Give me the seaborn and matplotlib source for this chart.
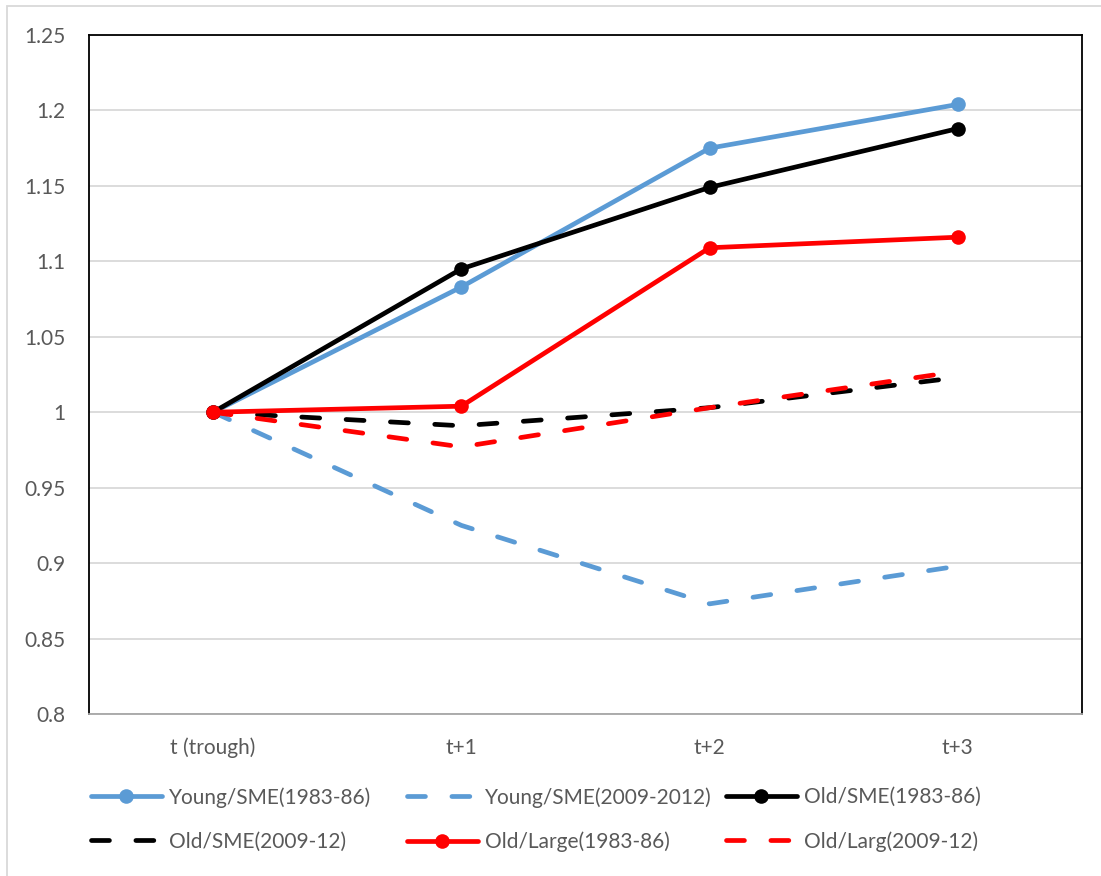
import matplotlib
matplotlib.use("Agg")
import matplotlib.pyplot as plt
import seaborn as sns
import pandas as pd
from matplotlib.lines import Line2D
from matplotlib.patches import Rectangle

# Recovery index by years after the trough
periods = ["t (trough)", "t+1", "t+2", "t+3"]
young_sme_83 = [1.0, 1.083, 1.175, 1.204]
young_sme_09 = [1.0, 0.925, 0.873, 0.898]
old_sme_83 = [1.0, 1.095, 1.149, 1.188]
old_sme_09 = [1.0, 0.991, 1.003, 1.023]
old_large_83 = [1.0, 1.004, 1.109, 1.116]
old_large_09 = [1.0, 0.977, 1.003, 1.027]

labels = ["Young/SME(1983-86)", "Young/SME(2009-2012)", "Old/SME(1983-86)",
          "Old/SME(2009-12)", "Old/Large(1983-86)", "Old/Larg(2009-12)"]
series = [young_sme_83, young_sme_09, old_sme_83, old_sme_09, old_large_83, old_large_09]

BLUE = "#5B9BD5"
RED = "#FF0000"
BLACK = "#000000"
colors = [BLUE, BLUE, BLACK, BLACK, RED, RED]
dashed = [False, True, False, True, False, True]

sns.set_theme(style="white")
plt.rcParams["font.family"] = ["Lato", "DejaVu Sans"]
TEXT = "#595959"
FS = 15

fig = plt.figure(figsize=(11.01, 8.76), dpi=100)
ax = fig.add_axes([89 / 1101, 1 - 714 / 876, (1082 - 89) / 1101, (714 - 35) / 876])

LW = 3.4
DASH = (3.8, 5.6)

rows = []
for lab, vals in zip(labels, series):
    for i, v in enumerate(vals):
        rows.append({"series": lab, "x": i, "value": v})
df = pd.DataFrame(rows)

for lab, col, dsh in zip(labels, colors, dashed):
    sub = df[df["series"] == lab]
    sns.lineplot(data=sub, x="x", y="value", ax=ax, color=col, linewidth=LW,
                 marker=None if dsh else "o", markersize=10.5,
                 markeredgewidth=0, legend=False, estimator=None)
    line = ax.lines[-1]
    line.set_solid_capstyle("round")
    line.set_dash_capstyle("round")
    if dsh:
        line.set_dashes(DASH)

ax.set_xlim(-0.5, 3.5)
ax.set_ylim(0.8, 1.25)
ax.set_yticks([0.8, 0.85, 0.9, 0.95, 1.0, 1.05, 1.1, 1.15, 1.2, 1.25])
ax.set_yticklabels(["0.8", "0.85", "0.9", "0.95", "1", "1.05", "1.1", "1.15", "1.2", "1.25"])
ax.set_xticks(range(len(periods)))
ax.set_xticklabels(periods)
ax.set_xlabel("")
ax.set_ylabel("")
ax.tick_params(axis="both", length=0, labelsize=FS, labelcolor=TEXT)
ax.tick_params(axis="y", pad=17)
ax.tick_params(axis="x", pad=17)
ax.yaxis.grid(True, color="#D9D9D9", linewidth=1.3)
ax.xaxis.grid(False)
ax.set_axisbelow(True)
for side in ["left", "top", "right"]:
    ax.spines[side].set_color("black")
    ax.spines[side].set_linewidth(1.3)
ax.spines["bottom"].set_color("#A6A6A6")
ax.spines["bottom"].set_linewidth(1.3)

# Legend: three columns of two entries each
def handle(col, dsh):
    h = Line2D([0], [0], color=col, linewidth=LW, marker=None if dsh else "o",
               markersize=10.5, markeredgewidth=0, solid_capstyle="round",
               dash_capstyle="round")
    if dsh:
        h.set_dashes(DASH)
    return h

columns = [(0, 3), (1, 4), (2, 5)]
col_x = [91, 407, 726]
for (a, b), x0 in zip(columns, col_x):
    hs = [handle(colors[a], dashed[a]), handle(colors[b], dashed[b])]
    leg = fig.legend(hs, [labels[a], labels[b]], loc="upper left",
                     bbox_to_anchor=(x0 / 1101, 1 - 787 / 876),
                     frameon=False, fontsize=FS, handlelength=3.4,
                     handletextpad=0.35, labelspacing=1.15, borderpad=0,
                     borderaxespad=0)
    for t in leg.get_texts():
        t.set_color(TEXT)

# Outer chart border
fig.patches.append(Rectangle((7 / 1101, -0.05), 1.2, 1 - 6 / 876 + 0.05,
                             transform=fig.transFigure, fill=False,
                             edgecolor="#D9D9D9", linewidth=1.3))

fig.savefig("out.png", dpi=100)
